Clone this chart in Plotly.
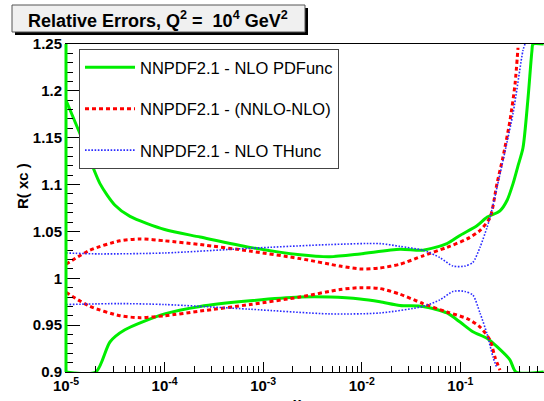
import plotly.graph_objects as go

# ---------------- data ----------------
pdf_up_x = [1.0e-5, 1.39e-5, 2.21e-5, 3.14e-5, 4.46e-5, 1.0e-4, 2.29e-4, 7.35e-4, 2.36e-3, 4.75e-3,
            9.6e-3, 2.44e-2, 4.18e-2, 7.31e-2, 0.1, 0.147, 0.186, 0.252, 0.297, 0.342, 0.384,
            0.431, 0.485, 0.532, 0.545, 0.70]
pdf_up_y = [1.190, 1.154, 1.101, 1.078, 1.066, 1.052, 1.044, 1.033, 1.025, 1.023,
            1.026, 1.031, 1.030, 1.037, 1.046, 1.056, 1.065, 1.072, 1.083, 1.101, 1.120,
            1.139, 1.192, 1.243, 1.25, 1.25]

pdf_lo_x = [1.0e-5, 2.01e-5, 2.79e-5, 3.96e-5, 1.0e-4, 2.29e-4, 7.35e-4, 2.36e-3, 4.75e-3, 9.6e-3,
            1.53e-2, 2.44e-2, 4.18e-2, 7.31e-2, 0.1, 0.134, 0.186, 0.235, 0.318, 0.366, 0.70]
pdf_lo_y = [0.9, 0.9, 0.932, 0.945, 0.962, 0.970, 0.976, 0.980, 0.980, 0.978,
            0.975, 0.971, 0.970, 0.963, 0.953, 0.943, 0.936, 0.927, 0.913, 0.9, 0.9]

nnlo_up_x = [1.0e-5, 1.75e-5, 3.53e-5, 5.64e-5, 1.0e-4, 2.29e-4, 7.35e-4, 2.36e-3, 6.01e-3, 9.6e-3,
             1.53e-2, 2.44e-2, 4.18e-2, 7.31e-2, 0.117, 0.158, 0.200, 0.235, 0.270, 0.318, 0.358, 0.384]
nnlo_up_y = [1.015, 1.030, 1.040, 1.042, 1.040, 1.036, 1.029, 1.021, 1.013, 1.010,
             1.011, 1.015, 1.024, 1.033, 1.042, 1.051, 1.065, 1.101, 1.129, 1.168, 1.207, 1.246]

nnlo_lo_x = [1.0e-5, 1.75e-5, 3.53e-5, 5.64e-5, 1.0e-4, 2.29e-4, 7.35e-4, 2.36e-3, 6.01e-3, 9.6e-3,
             1.53e-2, 2.44e-2, 4.18e-2, 7.31e-2, 0.117, 0.158, 0.200, 0.224, 0.252]
nnlo_lo_y = [0.985, 0.970, 0.960, 0.958, 0.960, 0.965, 0.972, 0.980, 0.988, 0.990,
             0.989, 0.983, 0.973, 0.964, 0.957, 0.948, 0.934, 0.916, 0.902]

thunc_up_x = [1.0e-5, 2.21e-5, 1.0e-4, 7.35e-4, 4.75e-3, 1.53e-2, 2.44e-2, 4.18e-2, 6.21e-2, 8.41e-2,
              0.111, 0.134, 0.158, 0.186, 0.200, 0.235, 0.342, 0.431, 0.452]
thunc_up_y = [1.027, 1.026, 1.027, 1.032, 1.036, 1.037, 1.034, 1.030, 1.022, 1.013,
              1.013, 1.017, 1.033, 1.054, 1.065, 1.097, 1.176, 1.243, 1.25]

thunc_lo_x = [1.0e-5, 3.53e-5, 1.0e-4, 7.35e-4, 4.75e-3, 1.53e-2, 4.18e-2, 6.21e-2, 8.41e-2, 0.111,
              0.134, 0.158, 0.186, 0.214, 0.235]
thunc_lo_y = [0.972, 0.973, 0.972, 0.967, 0.962, 0.963, 0.970, 0.977, 0.986, 0.986,
              0.982, 0.963, 0.941, 0.916, 0.904]

legend_names = ["NNPDF2.1 - NLO PDFunc", "NNPDF2.1 - (NNLO-NLO)", "NNPDF2.1 - NLO THunc"]
x_tick_vals = [1e-5, 1e-4, 1e-3, 1e-2, 1e-1]
x_tick_text = ["10<sup>-5</sup>", "10<sup>-4</sup>", "10<sup>-3</sup>", "10<sup>-2</sup>", "10<sup>-1</sup>"]
y_tick_vals = [0.9, 0.95, 1.0, 1.05, 1.1, 1.15, 1.2, 1.25]
y_tick_text = ["0.9", "0.95", "1", "1.05", "1.1", "1.15", "1.2", "1.25"]

# ---------------- figure ----------------
GREEN = "#00ee00"
RED = "#ff0000"
BLUE = "#2a2aff"

fig = go.Figure()

def add(xs, ys, name, color, width, dash, group, show):
    fig.add_trace(go.Scatter(
        x=xs, y=ys, mode="lines", name=name, legendgroup=group, showlegend=show,
        line=dict(color=color, width=width, dash=dash, shape="spline", smoothing=0.7),
    ))

add(pdf_up_x, pdf_up_y, legend_names[0], GREEN, 3, "solid", "g1", True)
add(pdf_lo_x, pdf_lo_y, legend_names[0], GREEN, 3, "solid", "g1", False)
add(nnlo_up_x, nnlo_up_y, legend_names[1], RED, 3, "4px,3px", "g2", True)
add(nnlo_lo_x, nnlo_lo_y, legend_names[1], RED, 3, "4px,3px", "g2", False)
add(thunc_up_x, thunc_up_y, legend_names[2], BLUE, 1.6, "1.6px,1.6px", "g3", True)
add(thunc_lo_x, thunc_lo_y, legend_names[2], BLUE, 1.6, "1.6px,1.6px", "g3", False)

W, H = 544, 401
ml, mr, mt, mb = 66, 0, 44, 29
pw, ph = W - ml - mr, H - mt - mb

def px(xp):
    return (xp - ml) / pw

def py(yp):
    return (H - mb - yp) / ph

tick_font = dict(family="Liberation Sans, Arial, sans-serif", size=15, color="black")

fig.update_layout(
    width=W, height=H,
    margin=dict(l=ml, r=mr, t=mt, b=mb),
    paper_bgcolor="white", plot_bgcolor="white",
    showlegend=True,
    legend=dict(
        x=px(79), y=py(49), xanchor="left", yanchor="top",
        bgcolor="white", bordercolor="#444444", borderwidth=1,
        font=dict(family="Liberation Sans, Arial, sans-serif", size=16.5, color="black"),
        tracegroupgap=17, itemwidth=50, traceorder="grouped",
    ),
    xaxis=dict(
        type="log", range=[-5, -0.152],
        showgrid=False, zeroline=False,
        showline=True, linecolor="black", linewidth=1, mirror=True,
        ticks="inside", ticklen=10, tickcolor="black", tickwidth=1,
        tickvals=x_tick_vals, ticktext=["<b>" + t + "</b>" for t in x_tick_text],
        tickfont=tick_font,
        minor=dict(ticks="inside", ticklen=6, tickcolor="black", dtick="D1", showgrid=False),
    ),
    yaxis=dict(
        range=[0.9, 1.25],
        showgrid=False, zeroline=False,
        showline=True, linecolor="black", linewidth=1,
        ticks="inside", ticklen=14, tickcolor="black", tickwidth=1,
        tickvals=y_tick_vals, ticktext=["<b>" + t + "</b>" for t in y_tick_text],
        tickfont=tick_font,
        minor=dict(ticks="inside", ticklen=7, tickcolor="black", dtick=0.01, showgrid=False),
    ),
)

# title box with shadow
fig.add_shape(type="rect", xref="paper", yref="paper",
              x0=px(15), x1=px(308), y0=py(35), y1=py(8),
              fillcolor="black", line=dict(width=0), layer="above")
fig.add_shape(type="rect", xref="paper", yref="paper",
              x0=px(12), x1=px(305), y0=py(32), y1=py(5),
              fillcolor="#f0f0f0", line=dict(color="#555555", width=1), layer="above")
fig.add_annotation(xref="paper", yref="paper", x=px(158), y=py(19),
                   text="<b>Relative Errors, Q<sup>2</sup> =  10<sup>4</sup> GeV<sup>2</sup></b>",
                   showarrow=False, xanchor="center", yanchor="middle",
                   font=dict(family="Liberation Sans, Arial, sans-serif", size=18, color="black"))

# green curve clipped along the left frame edge
fig.add_shape(type="line", xref="paper", yref="y", x0=0, x1=0, y0=0.9, y1=1.25,
              line=dict(color=GREEN, width=3), layer="above")

# axis titles
fig.add_annotation(xref="paper", yref="paper", x=px(22), y=py(186),
                   text="<b>R( xc )</b>", textangle=-90, showarrow=False,
                   xanchor="center", yanchor="middle",
                   font=dict(family="Liberation Sans, Arial, sans-serif", size=15, color="black"))
fig.add_annotation(xref="paper", yref="paper", x=px(297), y=py(392),
                   text="<b>x</b>", showarrow=False, xanchor="center", yanchor="top",
                   font=dict(family="Liberation Sans, Arial, sans-serif", size=15, color="black"))

fig.write_html("out.html")
